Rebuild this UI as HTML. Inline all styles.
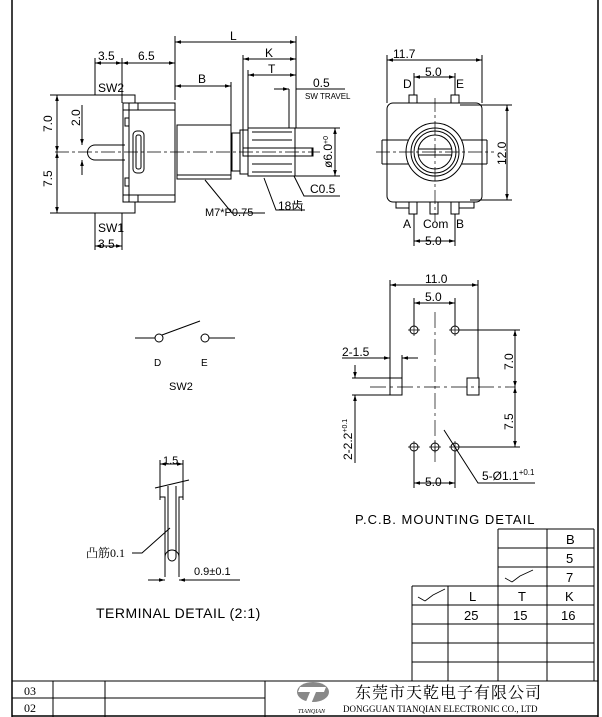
<!DOCTYPE html>
<html><head><meta charset="utf-8"><style>
html,body{margin:0;padding:0;background:#fff;}
svg{display:block;}
text{font-family:"Liberation Sans","Noto Sans CJK SC",sans-serif;fill:#000;}
.s{font-family:"Liberation Serif","Noto Serif CJK SC",serif;}
</style></head><body>
<svg width="602" height="717" viewBox="0 0 602 717" xmlns="http://www.w3.org/2000/svg">
<defs><marker id="a" viewBox="0 0 10 10" refX="10" refY="5" markerWidth="6" markerHeight="6" orient="auto-start-reverse"><path d="M0,2 L10,5 L0,8z" fill="#000"/></marker></defs>
<g fill="none" stroke="#000" stroke-width="1">
<!-- border -->
<line x1="12" y1="0" x2="12" y2="717" stroke-width="1.5"/>
<line x1="598" y1="0" x2="598" y2="717" stroke-width="1.5"/>
<!-- side view -->
<path d="M95,95 H135 V103"/><path d="M95,213 H135 V202"/>
<rect x="123" y="103" width="52" height="99"/>
<line x1="129" y1="103" x2="129" y2="202"/>
<line x1="123" y1="110" x2="175" y2="110"/><line x1="123" y1="195" x2="175" y2="195"/>
<line x1="138" y1="103" x2="138" y2="110"/><line x1="138" y1="195" x2="138" y2="202"/>
<rect x="133" y="131" width="11" height="42" rx="4"/>
<rect x="136" y="135" width="5" height="34" rx="2"/>
<rect x="125" y="118" width="4" height="8"/><rect x="125" y="178" width="4" height="8"/>
<rect x="177" y="125" width="54" height="54"/>
<line x1="177" y1="175" x2="231" y2="175"/>
<rect x="232" y="133" width="8" height="38"/>
<rect x="240" y="130" width="8" height="44"/>
<rect x="248" y="128" width="47" height="48"/>
<line x1="252" y1="132" x2="292" y2="132"/><line x1="252" y1="140" x2="292" y2="140"/><line x1="252" y1="164" x2="292" y2="164"/><line x1="252" y1="172" x2="292" y2="172"/>
<rect x="243" y="148" width="70" height="8"/>
<path d="M95,145 H125 M95,160 H125 M95,145 A7,7 0 0,0 95,160"/>
<line x1="55" y1="152" x2="320" y2="152" stroke-dasharray="14,3,3,3" stroke-width="0.7"/>
<!-- dims side -->
<line x1="175" y1="36" x2="175" y2="100"/><line x1="296" y1="36" x2="296" y2="128"/>
<line x1="175" y1="42" x2="296" y2="42" marker-start="url(#a)" marker-end="url(#a)"/>
<line x1="243" y1="55" x2="243" y2="148"/><line x1="243" y1="59" x2="296" y2="59" marker-start="url(#a)" marker-end="url(#a)"/>
<line x1="248" y1="70" x2="248" y2="128"/><line x1="248" y1="75" x2="296" y2="75" marker-start="url(#a)" marker-end="url(#a)"/>
<line x1="231" y1="82" x2="231" y2="125"/><line x1="175" y1="86" x2="231" y2="86" marker-start="url(#a)" marker-end="url(#a)"/>
<line x1="289" y1="89" x2="289" y2="128"/><line x1="274" y1="89" x2="289" y2="89" marker-end="url(#a)"/><line x1="296" y1="89" x2="345" y2="89"/>
<line x1="95" y1="58" x2="95" y2="95"/><line x1="122" y1="58" x2="122" y2="103"/>
<line x1="95" y1="63" x2="122" y2="63" marker-start="url(#a)" marker-end="url(#a)"/>
<line x1="122" y1="63" x2="175" y2="63" marker-start="url(#a)" marker-end="url(#a)"/>
<line x1="95" y1="213" x2="95" y2="250"/><line x1="122" y1="213" x2="122" y2="250"/>
<line x1="95" y1="246" x2="122" y2="246" marker-start="url(#a)" marker-end="url(#a)"/>
<line x1="50" y1="95" x2="95" y2="95"/><line x1="50" y1="213" x2="95" y2="213"/>
<line x1="57" y1="95" x2="57" y2="152" marker-start="url(#a)" marker-end="url(#a)"/>
<line x1="57" y1="152" x2="57" y2="213" marker-start="url(#a)" marker-end="url(#a)"/>
<line x1="82" y1="105" x2="82" y2="145" marker-end="url(#a)"/><line x1="82" y1="160" x2="82" y2="175" marker-start="url(#a)"/>
<line x1="295" y1="128" x2="340" y2="128"/><line x1="295" y1="176" x2="340" y2="176"/>
<line x1="335" y1="128" x2="335" y2="176" marker-start="url(#a)" marker-end="url(#a)"/>
<line x1="312" y1="148" x2="312" y2="156"/>
<path d="M205,180 L232,213 H265"/><path d="M264,178 L276,210 H305"/><path d="M294,176 L304,196 H340"/>
<!-- front view -->
<rect x="387" y="103" width="95" height="99" rx="6"/>
<line x1="382" y1="140" x2="387" y2="140"/><line x1="382" y1="164" x2="387" y2="164"/><line x1="382" y1="140" x2="382" y2="164"/>
<line x1="482" y1="140" x2="487" y2="140"/><line x1="482" y1="164" x2="487" y2="164"/><line x1="487" y1="140" x2="487" y2="164"/>
<path d="M387,140 H408 M387,164 H408 M462,140 H482 M462,164 H482"/>
<circle cx="435" cy="152" r="29"/><circle cx="435" cy="152" r="24"/><circle cx="435" cy="152" r="21"/><circle cx="435" cy="152" r="17"/>
<path d="M418,149 H452 M418,155 H452"/>
<rect x="409" y="95" width="8" height="8"/><rect x="451" y="95" width="8" height="8"/>
<rect x="409" y="202" width="8" height="12"/><rect x="430" y="202" width="8" height="12"/><rect x="451" y="202" width="8" height="12"/>
<path d="M396,202 V208 H409 M474,202 V208 H459"/>
<line x1="376" y1="152" x2="494" y2="152" stroke-dasharray="14,3,3,3" stroke-width="0.7"/>
<line x1="435" y1="98" x2="435" y2="222" stroke-dasharray="14,3,3,3" stroke-width="0.7"/>
<line x1="387" y1="55" x2="387" y2="103"/><line x1="482" y1="55" x2="482" y2="103"/>
<line x1="387" y1="60" x2="482" y2="60" marker-start="url(#a)" marker-end="url(#a)"/>
<line x1="414" y1="73" x2="414" y2="95"/><line x1="455" y1="73" x2="455" y2="95"/>
<line x1="414" y1="77" x2="455" y2="77" marker-start="url(#a)" marker-end="url(#a)"/>
<line x1="414" y1="214" x2="414" y2="246"/><line x1="455" y1="214" x2="455" y2="246"/>
<line x1="414" y1="241" x2="455" y2="241" marker-start="url(#a)" marker-end="url(#a)"/>
<line x1="460" y1="105" x2="512" y2="105"/><line x1="470" y1="200" x2="512" y2="200"/>
<line x1="507" y1="105" x2="507" y2="200" marker-start="url(#a)" marker-end="url(#a)"/>
<!-- PCB -->
<line x1="390" y1="280" x2="390" y2="378"/><line x1="478" y1="280" x2="478" y2="378"/>
<line x1="390" y1="285" x2="478" y2="285" marker-start="url(#a)" marker-end="url(#a)"/>
<line x1="414" y1="298" x2="414" y2="326"/><line x1="455" y1="298" x2="455" y2="326"/>
<line x1="414" y1="303" x2="455" y2="303" marker-start="url(#a)" marker-end="url(#a)"/>
<circle cx="414" cy="330" r="4"/><circle cx="455" cy="330" r="4"/>
<circle cx="414" cy="447" r="4"/><circle cx="435" cy="447" r="4"/><circle cx="455" cy="447" r="4"/>
<path d="M408,330 h12 M414,324 v12 M449,330 h12 M455,324 v12 M408,447 h12 M414,441 v12 M429,447 h12 M435,441 v12 M449,447 h12 M455,441 v12" stroke-width="0.7"/>
<line x1="435" y1="312" x2="435" y2="462" stroke-dasharray="16,4,3,4" stroke-width="0.7"/>
<rect x="390" y="378" width="12" height="17"/><rect x="467" y="378" width="12" height="17"/>
<line x1="370" y1="387" x2="515" y2="387" stroke-dasharray="16,4,3,4" stroke-width="0.7"/>
<line x1="459" y1="330" x2="520" y2="330"/><line x1="459" y1="447" x2="520" y2="447"/>
<line x1="515" y1="330" x2="515" y2="387" marker-start="url(#a)" marker-end="url(#a)"/>
<line x1="515" y1="387" x2="515" y2="447" marker-start="url(#a)" marker-end="url(#a)"/>
<line x1="342" y1="358" x2="390" y2="358" marker-end="url(#a)"/><line x1="402" y1="358" x2="418" y2="358" marker-start="url(#a)"/>
<line x1="402" y1="355" x2="402" y2="378"/>
<line x1="352" y1="378" x2="390" y2="378"/><line x1="352" y1="395" x2="390" y2="395"/>
<line x1="355" y1="365" x2="355" y2="378" marker-end="url(#a)"/><line x1="355" y1="395" x2="355" y2="463" marker-start="url(#a)"/>
<line x1="414" y1="451" x2="414" y2="488"/><line x1="455" y1="451" x2="455" y2="488"/>
<line x1="414" y1="483" x2="455" y2="483" marker-start="url(#a)" marker-end="url(#a)"/>
<path d="M444,430 L478,483 H535"/>
<!-- SW2 -->
<line x1="135" y1="338" x2="155" y2="338"/><circle cx="159" cy="338" r="4"/>
<line x1="162" y1="335" x2="200" y2="321"/>
<circle cx="205" cy="338" r="4"/><line x1="209" y1="338" x2="235" y2="338"/>
<!-- terminal -->
<line x1="160" y1="460" x2="160" y2="500"/><line x1="183" y1="460" x2="183" y2="500"/>
<line x1="160" y1="464" x2="183" y2="464" marker-start="url(#a)" marker-end="url(#a)"/>
<line x1="155" y1="488" x2="189" y2="480"/>
<path d="M160,486 V497 H165 V577 M183,480 V497 H179 V577"/>
<path d="M168,486 V557 A4,4 0 0,0 176,557 V486"/>
<path d="M165,557 A7,7 0 0,1 179,557"/>
<line x1="148" y1="580" x2="165" y2="580" marker-end="url(#a)"/><line x1="179" y1="580" x2="240" y2="580" marker-start="url(#a)"/>
<path d="M132,553 H142 L170,528"/>
<!-- table right -->
<path d="M498,529 H594 M498,548 H594 M498,567 H594 M412,586 H594 M412,605 H594 M412,624 H594 M412,643 H594 M412,662 H594"/>
<path d="M498,529 V681 M547,529 V681 M412,586 V681 M448,586 V681 M594,529 V681"/>
<path d="M512,582 L520,576 L533,570 M512,582 L505,578" stroke-width="0.8"/>
<path d="M425,601 L433,595 L445,589 M425,601 L418,597" stroke-width="0.8"/>
<!-- bottom table -->
<line x1="12" y1="681" x2="598" y2="681"/><line x1="12" y1="698" x2="265" y2="698"/>
<line x1="12" y1="716" x2="598" y2="716" stroke-width="1.5"/>
<path d="M53,681 V717 M105,681 V717 M265,681 V717"/>
</g>
<!-- logo -->
<ellipse cx="313" cy="692" rx="16" ry="10" fill="#888"/>
<path d="M300,687 H326 L324,692 H316 L311,704 H305 L310,692 H298z" fill="#fff"/>
<g font-size="12">
<text x="98" y="60">3.5</text><text x="138" y="60">6.5</text><text x="98" y="92">SW2</text>
<text x="98" y="232">SW1</text><text x="98" y="248">3.5</text>
<text x="230" y="40">L</text><text x="265" y="57">K</text><text x="268" y="73">T</text><text x="198" y="83">B</text>
<text x="313" y="87">0.5</text><text x="305" y="99" font-size="8">SW TRAVEL</text>
<text x="310" y="193">C0.5</text><text x="278" y="210">18齿</text>
<text x="205" y="216" font-size="11">M7*P0.75</text>
<text x="393" y="58">11.7</text><text x="425" y="76">5.0</text><text x="403" y="88">D</text><text x="456" y="88">E</text>
<text x="403" y="228">A</text><text x="423" y="228">Com</text><text x="456" y="228">B</text><text x="425" y="245">5.0</text>
<text x="425" y="283">11.0</text><text x="425" y="301">5.0</text><text x="342" y="356">2-1.5</text>
<text x="425" y="486">5.0</text><text x="482" y="480">5-Ø1.1<tspan font-size="8" dy="-5">+0.1</tspan></text>
<text x="355" y="524" font-size="13" letter-spacing="1">P.C.B.  MOUNTING  DETAIL</text>
<text x="154" y="366" font-size="10">D</text><text x="201" y="366" font-size="10">E</text><text x="169" y="390" font-size="11">SW2</text>
<text x="163" y="464" font-size="11">1.5</text>
<text x="86" y="557" class="s" font-size="12">凸筋0.1</text>
<text x="194" y="575" font-size="11">0.9±0.1</text>
<text x="96" y="618" font-size="14" letter-spacing="0.5">TERMINAL  DETAIL  (2:1)</text>
<text x="566" y="544" font-size="13">B</text><text x="566" y="563" font-size="13">5</text><text x="566" y="582" font-size="13">7</text>
<text x="469" y="601" font-size="13">L</text><text x="518" y="601" font-size="13">T</text><text x="565" y="601" font-size="13">K</text>
<text x="464" y="620" font-size="13">25</text><text x="513" y="620" font-size="13">15</text><text x="561" y="620" font-size="13">16</text>
<text x="24" y="695" class="s" font-size="12">03</text><text x="24" y="712" class="s" font-size="12">02</text>
<text x="355" y="698" class="s" font-size="16" letter-spacing="1">东莞市天乾电子有限公司</text>
<text x="343" y="712" class="s" font-size="9">DONGGUAN TIANQIAN  ELECTRONIC CO., LTD</text>
<text x="298" y="713" class="s" font-size="6" font-style="italic">TIANQIAN</text>
</g>
<g font-size="12">
<text transform="translate(52,132) rotate(-90)">7.0</text>
<text transform="translate(52,187) rotate(-90)">7.5</text>
<text transform="translate(80,126) rotate(-90)">2.0</text>
<text transform="translate(332,168) rotate(-90)">ø6.0<tspan font-size="7" dy="-4">+0</tspan></text>
<text transform="translate(506,165) rotate(-90)">12.0</text>
<text transform="translate(513,370) rotate(-90)">7.0</text>
<text transform="translate(513,430) rotate(-90)">7.5</text>
<text transform="translate(352,460) rotate(-90)">2-2.2<tspan font-size="7" dy="-5">+0.1</tspan></text>
</g>
</svg>
</body></html>
